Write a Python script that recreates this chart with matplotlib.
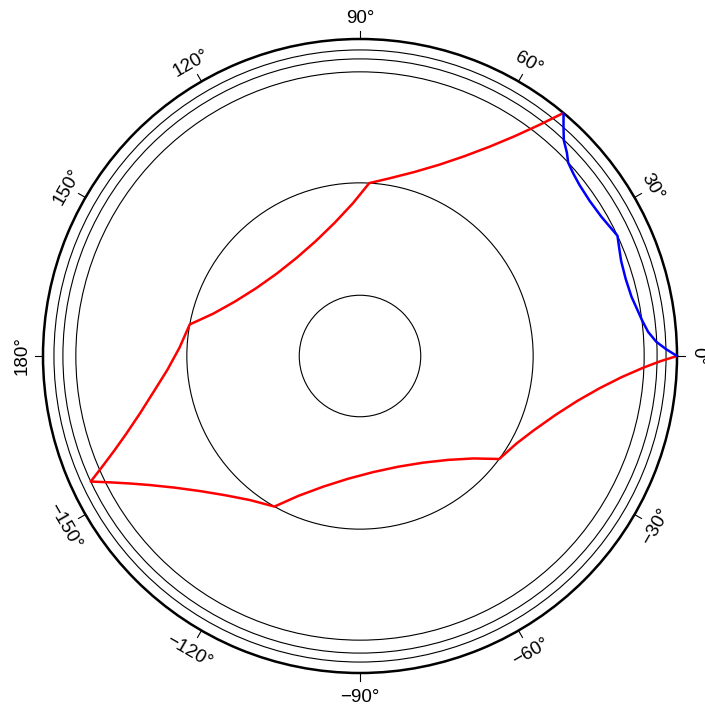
import numpy as np
import matplotlib
matplotlib.use("Agg")
from matplotlib import pyplot as plt
from matplotlib.patches import Circle

plt.rcParams['font.family'] = ['Liberation Sans', 'DejaVu Sans']

earth_radius = 6371
# discontinuities drawn as circles (km)
disc_radii = [1221, 3480, 5711, 5971, 6151]

# red ray (angle deg, radius km), leg by leg
red_theta = [0, -0.99, -2.34, -4.63, -7.68, -11.64, -16.77, -23.24, -29.2,
             -36.5, -42.12, -49.64, -59.31, -70.92, -83.46, -95.45, -105.69, -113.8,
             -119.6, -127.36, -134.12, -139.83, -144.56, -148.43, -151.0, -153.19,
             -155.0, -156.81, -158.99, -161.57, -165.45, -170.19, -175.92, -182.7,
             169.5, 163.91, 156.44, 146.83, 135.29, 122.82, 110.9, 100.72, 92.66,
             86.93, 80.63, 73.56, 67.48, 62.43, 58.28, 54.91, 52.19, 50.83, 50.05]
red_r = [6371, 6040, 5703, 5273, 4857, 4463, 4104, 3795, 3604,
         3480, 3070, 2740, 2492, 2354, 2348, 2477, 2727, 3073,
         3480, 3643, 3897, 4208, 4564, 4954, 5285, 5630,
         5971, 5630, 5285, 4954, 4564, 4208, 3880, 3630,
         3480, 3070, 2740, 2492, 2354, 2348, 2477, 2727, 3073,
         3480, 3618, 3855, 4162, 4529, 4943, 5395, 5879, 6183, 6371]

# blue ray
blue_theta = [0, 1.3, 2.76, 4.8, 7.3, 9.5, 12.3, 16.2, 20, 22.5, 25.05,
              27.5, 30, 34, 37.9, 40.5, 42.9, 44.5, 46.6, 48.4, 50.05]
blue_r = [6371, 6150, 5960, 5810, 5711, 5650, 5585, 5560, 5585, 5640, 5711,
          5650, 5600, 5570, 5592, 5640, 5711, 5830, 5962, 6160, 6371]

tick_angles = [-150, -120, -90, -60, -30, 0, 30, 60, 90, 120, 150, 180]

fig = plt.figure(figsize=(7.05, 7.05), dpi=100)
cx, cy, rad = 360/705, 1-356/705, 317/705
ax = fig.add_axes([cx-rad, cy-rad, 2*rad, 2*rad], projection='polar')

# discontinuity circles
for rr in disc_radii:
    ax.add_patch(Circle((0.5, 0.5), 0.5*rr/earth_radius, transform=ax.transAxes,
                        fill=False, edgecolor='k', lw=0.8, zorder=2))

ax.plot(np.radians(red_theta) % (2*np.pi), red_r, color='#ff0000', lw=1.8,
        solid_joinstyle='round', zorder=3)
ax.plot(np.radians(blue_theta), blue_r, color='#0000ff', lw=1.8,
        solid_joinstyle='round', zorder=4)

ax.set_yticks([])
ax.set_xticks([])
ax.grid(False)
ax.tick_params(axis='both', length=0, width=0)
for s in ['start', 'end', 'inner']:
    ax.spines[s].set_visible(False)
ax.spines['polar'].set_linewidth(1.8)

tick_out = earth_radius*(1+8/317)
for a in tick_angles:
    ax.plot([np.radians(a)]*2, [earth_radius, tick_out], color='k', lw=0.8, clip_on=False)
    rot = ((a-90+180) % 360)-180
    flipped = False
    if rot < -90:
        rot += 180
        flipped = True
    if rot > 90:
        rot -= 180
        flipped = True
    lab = ("\u2212%d" % -a if a < 0 else "%d" % a)+"\u00b0"
    va = 'top' if flipped else 'baseline'
    ax.text(np.radians(a), earth_radius*(1+16/317), lab, rotation=rot, rotation_mode='anchor',
            ha='center', va=va, fontsize=13.5, clip_on=False)

ax.set_thetalim(0, 2*np.pi)
ax.set_ylim(0, earth_radius)

plt.savefig("out.png", dpi=100)
